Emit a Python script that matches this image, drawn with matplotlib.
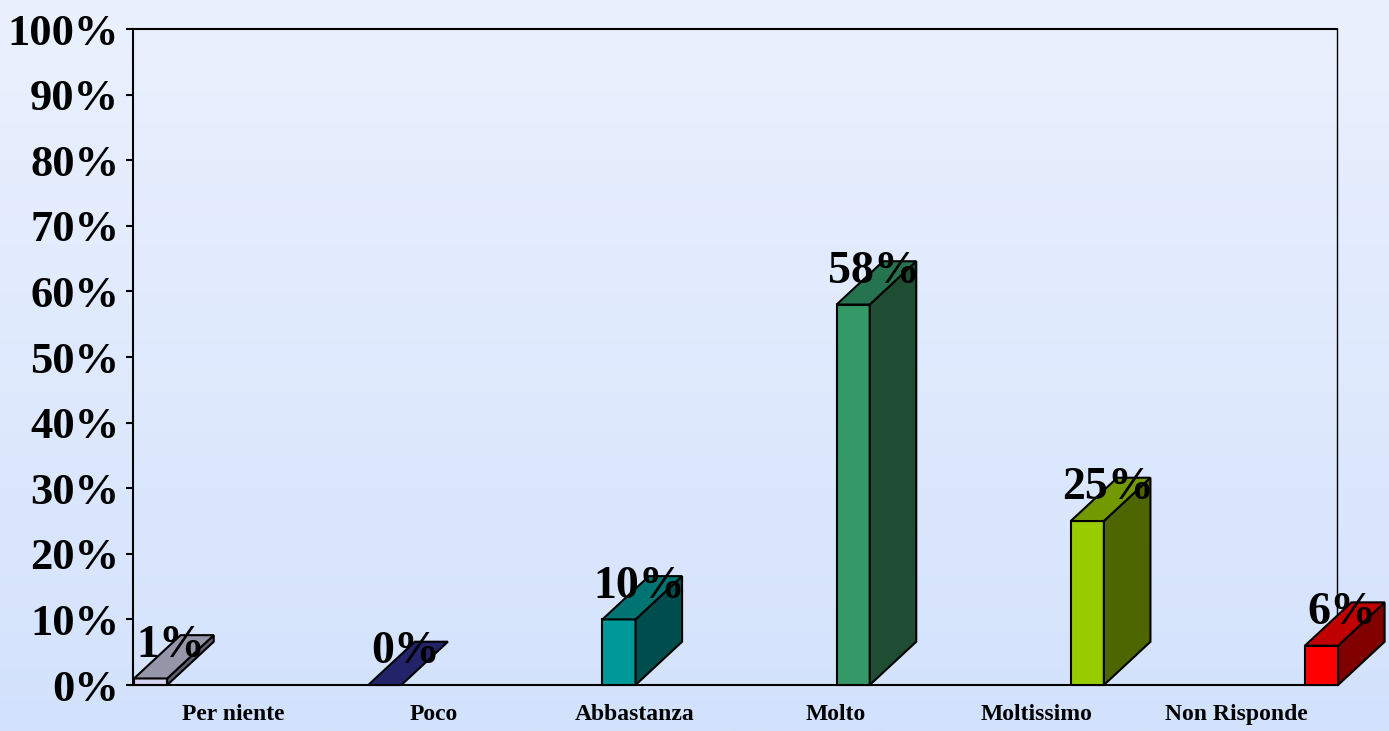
import numpy as np
import matplotlib.pyplot as plt
from matplotlib.patches import Polygon

categories = ["Per niente", "Poco", "Abbastanza", "Molto", "Moltissimo", "Non Risponde"]
values = [1, 0, 10, 58, 25, 6]
labels = ["1%", "0%", "10%", "58%", "25%", "6%"]
yticks = [0, 10, 20, 30, 40, 50, 60, 70, 80, 90, 100]

front_cols = ["#D4D4F0", "#2A2A78", "#009999", "#339966", "#99CC00", "#FF0000"]
top_cols = ["#9696AA", "#23236A", "#007373", "#267350", "#739900", "#C00000"]
side_cols = ["#5E5E70", "#161648", "#004D4D", "#1E4D33", "#4D6600", "#800000"]

plt.rcParams['font.family'] = ['Liberation Serif', 'DejaVu Serif']

fig = plt.figure(figsize=(13.89, 7.31), dpi=100)

# gradient background
bg = fig.add_axes([0, 0, 1, 1], zorder=-1)
grad = np.linspace(0, 1, 256).reshape(-1, 1)
top_c = np.array([235, 241, 254]) / 255
bot_c = np.array([211, 226, 252]) / 255
img = top_c * (1 - grad[..., None]) + bot_c * grad[..., None]
bg.imshow(img, aspect='auto', extent=[0, 1, 0, 1])
bg.axis('off')

ax = fig.add_axes([0.0958, 0.0629, 0.8668, 0.8974])
ax.set_facecolor('none')
ax.set_xlim(0, 6)
ax.set_ylim(0, 100)

# pseudo-3D bars: front, side and top faces
w = 0.165
dx = 0.232
dy = 6.6
step = 1.167
for i, v in enumerate(values):
    x0 = i * step + 0.005
    front = Polygon([(x0, 0), (x0 + w, 0), (x0 + w, v), (x0, v)], closed=True,
                    facecolor=front_cols[i], edgecolor='black', lw=1.5, zorder=3, clip_on=False)
    side = Polygon([(x0 + w, 0), (x0 + w + dx, dy), (x0 + w + dx, v + dy), (x0 + w, v)], closed=True,
                   facecolor=side_cols[i], edgecolor='black', lw=1.5, zorder=3, clip_on=False)
    top = Polygon([(x0, v), (x0 + w, v), (x0 + w + dx, v + dy), (x0 + dx, v + dy)], closed=True,
                  facecolor=top_cols[i], edgecolor='black', lw=1.5, zorder=3, clip_on=False)
    if v > 0:
        ax.add_patch(front)
        ax.add_patch(side)
    ax.add_patch(top)
    ax.text(x0 + 0.185, v + 3.3, labels[i], ha='center', va='baseline',
            fontsize=33, fontweight='bold', zorder=5)

ax.set_yticks(yticks)
ax.set_yticklabels([f"{t}%" for t in yticks], fontsize=32, fontweight='bold')
ax.set_xticks(np.arange(6) + 0.5)
ax.set_xticklabels(categories, fontsize=17, fontweight='bold')
ax.tick_params(axis='x', length=0, pad=14)
ax.tick_params(axis='y', length=5, width=1.5, pad=5, direction='out')
for s in ax.spines.values():
    s.set_linewidth(1.5)
ax.spines['right'].set_linewidth(1.0)

fig.savefig('out.png', dpi=100)
